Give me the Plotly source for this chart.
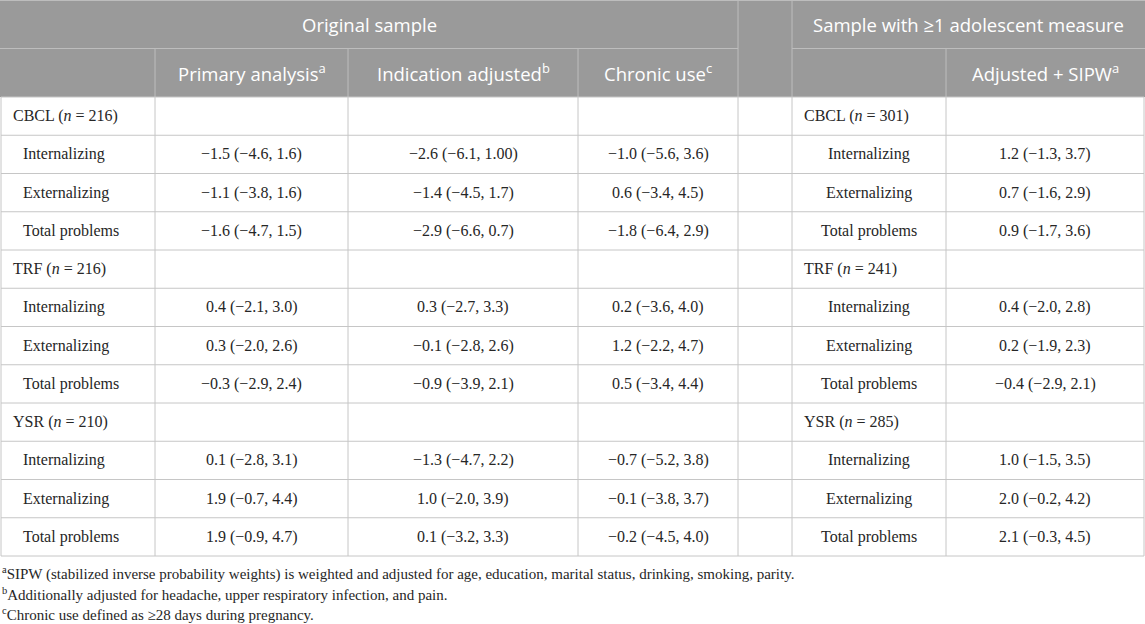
import plotly.graph_objects as go

# table content
groups = ["CBCL", "TRF", "YSR"]
n_original = [216, 216, 210]
n_adolescent = [301, 241, 285]
outcomes = ["Internalizing", "Externalizing", "Total problems"]

primary = ["−1.5 (−4.6, 1.6)", "−1.1 (−3.8, 1.6)", "−1.6 (−4.7, 1.5)",
           "0.4 (−2.1, 3.0)", "0.3 (−2.0, 2.6)", "−0.3 (−2.9, 2.4)",
           "0.1 (−2.8, 3.1)", "1.9 (−0.7, 4.4)", "1.9 (−0.9, 4.7)"]
indication = ["−2.6 (−6.1, 1.00)", "−1.4 (−4.5, 1.7)", "−2.9 (−6.6, 0.7)",
              "0.3 (−2.7, 3.3)", "−0.1 (−2.8, 2.6)", "−0.9 (−3.9, 2.1)",
              "−1.3 (−4.7, 2.2)", "1.0 (−2.0, 3.9)", "0.1 (−3.2, 3.3)"]
chronic = ["−1.0 (−5.6, 3.6)", "0.6 (−3.4, 4.5)", "−1.8 (−6.4, 2.9)",
           "0.2 (−3.6, 4.0)", "1.2 (−2.2, 4.7)", "0.5 (−3.4, 4.4)",
           "−0.7 (−5.2, 3.8)", "−0.1 (−3.8, 3.7)", "−0.2 (−4.5, 4.0)"]
sipw = ["1.2 (−1.3, 3.7)", "0.7 (−1.6, 2.9)", "0.9 (−1.7, 3.6)",
        "0.4 (−2.0, 2.8)", "0.2 (−1.9, 2.3)", "−0.4 (−2.9, 2.1)",
        "1.0 (−1.5, 3.5)", "2.0 (−0.2, 4.2)", "2.1 (−0.3, 4.5)"]

top_headers = ["Original sample", "Sample with ≥1 adolescent measure"]
sub_headers = ["", "Primary analysis<sup>a</sup>", "Indication adjusted<sup>b</sup>",
               "Chronic use<sup>c</sup>", "", "", "Adjusted + SIPW<sup>a</sup>"]
footnotes = [
    "<sup>a</sup>SIPW (stabilized inverse probability weights) is weighted and adjusted for age, "
    "education, marital status, drinking, smoking, parity.",
    "<sup>b</sup>Additionally adjusted for headache, upper respiratory infection, and pain.",
    "<sup>c</sup>Chronic use defined as ≥28 days during pregnancy.",
]

# layout
W, H = 1145, 624
col_edges = [1, 155, 348, 578, 738, 792, 946, 1144]
head_h = 48.5
row_h = 38.25
body_top = 2 * head_h
n_rows = len(groups) * (len(outcomes) + 1)

HEAD_BG = "#9a9a9a"
HEAD_LINE = "#bdbdbd"
GRID = "#c6c6c6"
TXT = "#262626"
SANS = "Open Sans, Noto Sans, sans-serif"
SERIF = "Liberation Serif, Times New Roman, serif"
HEAD_SIZE = 18.5

fig = go.Figure()
shapes = []
ann = []


def text(x, y, s, anchor="center", font=SERIF, size=16, color=TXT):
    ann.append(dict(x=x, y=y, text=s, xref="x", yref="y", showarrow=False,
                    xanchor=anchor, yanchor="middle",
                    font=dict(family=font, size=size, color=color)))


def line(x0, y0, x1, y1, color=GRID, width=1):
    shapes.append(dict(type="line", xref="x", yref="y", x0=x0, y0=y0, x1=x1, y1=y1,
                       line=dict(color=color, width=width), layer="above"))


# header background
shapes.append(dict(type="rect", xref="x", yref="y", x0=0, x1=W, y0=0, y1=body_top,
                   fillcolor=HEAD_BG, line=dict(width=0), layer="below"))

# header lines
line(0, 0.5, W, 0.5, HEAD_LINE)
line(0, head_h, col_edges[4], head_h, HEAD_LINE)
line(col_edges[5], head_h, W, head_h, HEAD_LINE)
for i in (4, 5):
    line(col_edges[i], 0, col_edges[i], body_top, HEAD_LINE)
for i in (1, 2, 3, 6):
    line(col_edges[i], head_h, col_edges[i], body_top, HEAD_LINE)

text((0 + col_edges[4]) / 2, head_h / 2, top_headers[0], font=SANS, size=HEAD_SIZE, color="white")
text((col_edges[5] + W) / 2, head_h / 2, top_headers[1], font=SANS, size=HEAD_SIZE, color="white")
for i, s in enumerate(sub_headers):
    if s:
        text((col_edges[i] + col_edges[i + 1]) / 2, head_h * 1.5, s,
             font=SANS, size=HEAD_SIZE, color="white")

# body grid
table_bottom = body_top + n_rows * row_h
for r in range(n_rows + 1):
    y = body_top + r * row_h
    line(col_edges[0], y, col_edges[-1], y)
for x in col_edges:
    line(x, body_top, x, table_bottom)

# body text
r = 0
for g in range(len(groups)):
    yc = body_top + (r + 0.5) * row_h
    text(col_edges[0] + 10, yc, f"{groups[g]} (<i>n</i> = {n_original[g]})", anchor="left")
    text(col_edges[5] + 10, yc, f"{groups[g]} (<i>n</i> = {n_adolescent[g]})", anchor="left")
    r += 1
    for k, name in enumerate(outcomes):
        idx = g * len(outcomes) + k
        yc = body_top + (r + 0.5) * row_h
        text(col_edges[0] + 20, yc, name, anchor="left")
        for c, vals in ((1, primary), (2, indication), (3, chronic), (6, sipw)):
            text((col_edges[c] + col_edges[c + 1]) / 2, yc, vals[idx])
        text((col_edges[5] + col_edges[6]) / 2, yc, name)
        r += 1

# footnotes
for i, s in enumerate(footnotes):
    text(0, table_bottom + 17 + i * 20.5, s, anchor="left", size=15)

fig.update_layout(
    width=W, height=H,
    margin=dict(l=0, r=0, t=0, b=0),
    paper_bgcolor="white", plot_bgcolor="white",
    xaxis=dict(range=[0, W], visible=False, fixedrange=True),
    yaxis=dict(range=[H, 0], visible=False, fixedrange=True),
    shapes=shapes, annotations=ann, showlegend=False,
)

fig.write_html("out.html", config={"displayModeBar": False},
               post_script="document.body.style.margin='0';")
